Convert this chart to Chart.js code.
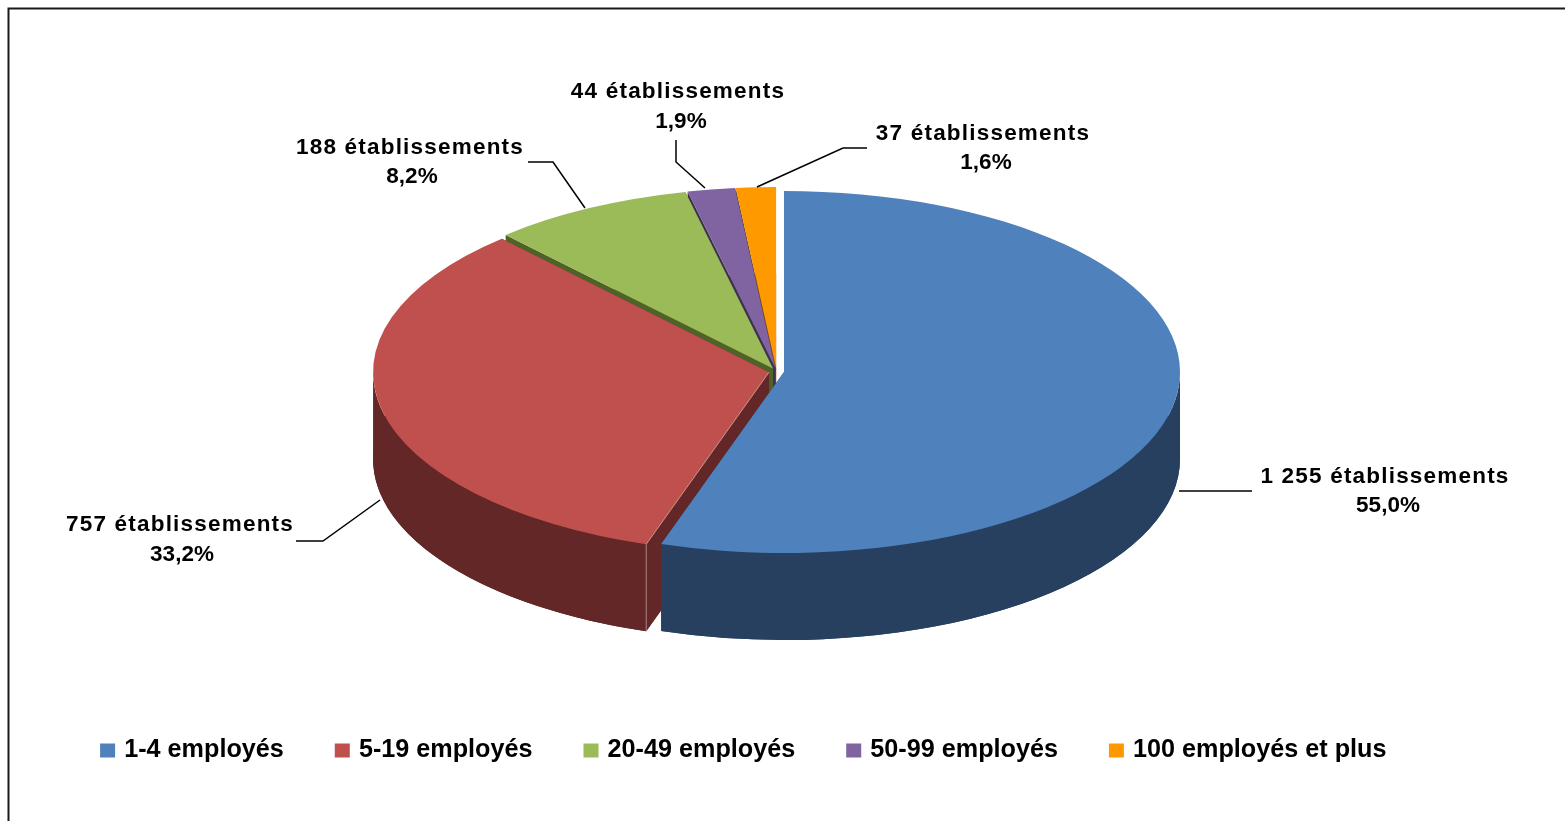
<!DOCTYPE html>
<html lang="fr">
<head>
<meta charset="utf-8">
<title>Établissements par taille</title>
<script src="https://cdn.jsdelivr.net/npm/chart.js@4/dist/chart.umd.min.js"></script>
<style>
	html, body { margin: 0; padding: 0; background: #fff; overflow: hidden; }
	#wrap { width: 1565px; height: 821px; }
</style>
</head>
<body>
<div id="wrap"><canvas id="pieChart"></canvas></div>
<script>
// data
const categories = ["1-4 employés", "5-19 employés", "20-49 employés", "50-99 employés", "100 employés et plus"];
const etablissements = [1255, 757, 188, 44, 37];
const countLabels = ["1 255 établissements", "757 établissements", "188 établissements", "44 établissements", "37 établissements"];
const percentLabels = ["55,0%", "33,2%", "8,2%", "1,9%", "1,6%"];

// colours
const topColors = ['#4F81BD', '#C0504D', '#9BBB59', '#8064A2', '#FF9900'];
const wallColors = ['#28405F', '#622726', '#4F6228', '#403152', '#7F4C00'];

// 3D look
const centerX = 776.5;
const centerY = 371.5;
const radius = 396;
const flatten = 0.457;
const explode = 7.6;
const depth = 87;

// label placement: first line centre and y, second line centre and y, then leader line points
const labelPlaces = [
	{ x1: 1385, y1: 477, x2: 1388, y2: 506, line: [[1179, 491], [1252, 491]] },
	{ x1: 180, y1: 525, x2: 182, y2: 555, line: [[380, 500], [323, 541], [296, 541]] },
	{ x1: 410, y1: 148, x2: 412, y2: 177, line: [[585, 208], [553, 162], [528, 162]] },
	{ x1: 678, y1: 92, x2: 681, y2: 122, line: [[705, 188], [676, 162], [676, 140]] },
	{ x1: 983, y1: 134, x2: 986, y2: 163, line: [[757, 187], [843, 148], [867, 148]] }
];

function screenY(y) {
	return centerY + (y - centerY) * flatten;
}

function drawWall(ctx, arc) {
	const rx = arc.outerRadius;
	const ry = arc.outerRadius * flatten;
	const y = screenY(arc.y);

	// bottom of the slice
	ctx.beginPath();
	ctx.moveTo(arc.x, y + depth);
	ctx.ellipse(arc.x, y + depth, rx, ry, 0, arc.startAngle, arc.endAngle);
	ctx.closePath();
	ctx.fill();

	// outer rim, only the part that faces the viewer (angles 0 to PI)
	const a = Math.max(arc.startAngle, 0);
	const b = Math.min(arc.endAngle, Math.PI);
	if (a < b) {
		ctx.beginPath();
		ctx.ellipse(arc.x, y + depth, rx, ry, 0, a, b);
		ctx.ellipse(arc.x, y, rx, ry, 0, b, a, true);
		ctx.closePath();
		ctx.fill();
	}

	// the two cut faces
	[arc.startAngle, arc.endAngle].forEach(function(angle) {
		const ex = arc.x + Math.cos(angle) * rx;
		const ey = y + Math.sin(angle) * ry;
		ctx.beginPath();
		ctx.moveTo(arc.x, y);
		ctx.lineTo(ex, ey);
		ctx.lineTo(ex, ey + depth);
		ctx.lineTo(arc.x, y + depth);
		ctx.closePath();
		ctx.fill();
	});
}

const pie3d = {
	id: 'pie3d',
	// move each slice out from the centre
	afterDatasetsUpdate(chart) {
		chart.getDatasetMeta(0).data.forEach(function(arc) {
			const mid = (arc.startAngle + arc.endAngle) / 2;
			arc.x = centerX + Math.cos(mid) * explode;
			arc.y = centerY + Math.sin(mid) * explode;
		});
	},
	beforeDatasetsDraw(chart) {
		const ctx = chart.ctx;
		const arcs = chart.getDatasetMeta(0).data;

		// side walls, back slices first
		for (let i = arcs.length - 1; i >= 0; i--) {
			ctx.fillStyle = wallColors[i];
			drawWall(ctx, arcs[i]);
		}

		// flatten the circle into an ellipse
		ctx.save();
		ctx.translate(0, centerY);
		ctx.scale(1, flatten);
		ctx.translate(0, -centerY);
	},
	afterDatasetsDraw(chart) {
		const ctx = chart.ctx;
		ctx.restore();

		// thin light edge on the red corner
		const red = chart.getDatasetMeta(0).data[1];
		const px = red.x + Math.cos(red.startAngle) * red.outerRadius;
		const py = screenY(red.y) + Math.sin(red.startAngle) * red.outerRadius * flatten;
		ctx.save();
		ctx.strokeStyle = 'rgba(255,255,255,0.45)';
		ctx.lineWidth = 1;
		ctx.beginPath();
		ctx.moveTo(red.x, screenY(red.y));
		ctx.lineTo(px, py);
		ctx.lineTo(px, py + depth);
		ctx.stroke();
		ctx.restore();
	},
	afterDraw(chart) {
		const ctx = chart.ctx;
		ctx.save();

		// frame, only top and left are inside the picture
		ctx.strokeStyle = '#1a1a1a';
		ctx.lineWidth = 2;
		ctx.beginPath();
		ctx.moveTo(8.5, 830);
		ctx.lineTo(8.5, 8.5);
		ctx.lineTo(1570, 8.5);
		ctx.stroke();

		// leader lines
		ctx.strokeStyle = '#000';
		ctx.lineWidth = 1.5;
		labelPlaces.forEach(function(p) {
			ctx.beginPath();
			p.line.forEach(function(pt, j) {
				if (j === 0) ctx.moveTo(pt[0], pt[1]);
				else ctx.lineTo(pt[0], pt[1]);
			});
			ctx.stroke();
		});

		// labels
		ctx.fillStyle = '#000';
		ctx.textAlign = 'center';
		ctx.textBaseline = 'middle';
		ctx.font = 'bold 22.5px "Liberation Sans"';
		labelPlaces.forEach(function(p, i) {
			ctx.letterSpacing = '1.2px';
			ctx.fillText(countLabels[i], p.x1, p.y1);
			ctx.letterSpacing = '0px';
			ctx.fillText(percentLabels[i], p.x2, p.y2);
		});
		ctx.restore();
	}
};

new Chart(document.getElementById('pieChart').getContext('2d'), {
	type: 'pie',
	data: {
		labels: categories,
		datasets: [{
			data: etablissements,
			backgroundColor: topColors,
			borderWidth: 0,
			clip: false
		}]
	},
	options: {
		responsive: true,
		maintainAspectRatio: false,
		animation: false,
		events: [],
		radius: radius,
		layout: { padding: { right: 75, bottom: 48 } },
		plugins: {
			tooltip: { enabled: false },
			legend: {
				position: 'bottom',
				labels: {
					color: '#000',
					font: { family: '"Liberation Sans"', size: 25.2, weight: 'bold' },
					padding: 54.5,
					boxWidth: 8,
					boxHeight: 7,
					// box drawn with a thick stroke so the text sits closer to it
					generateLabels: function(chart) {
						return categories.map(function(name, i) {
							return { text: name, fillStyle: topColors[i], strokeStyle: topColors[i], lineWidth: 7, index: i, hidden: false };
						});
					}
				}
			}
		}
	},
	plugins: [pie3d]
});
</script>
</body>
</html>
